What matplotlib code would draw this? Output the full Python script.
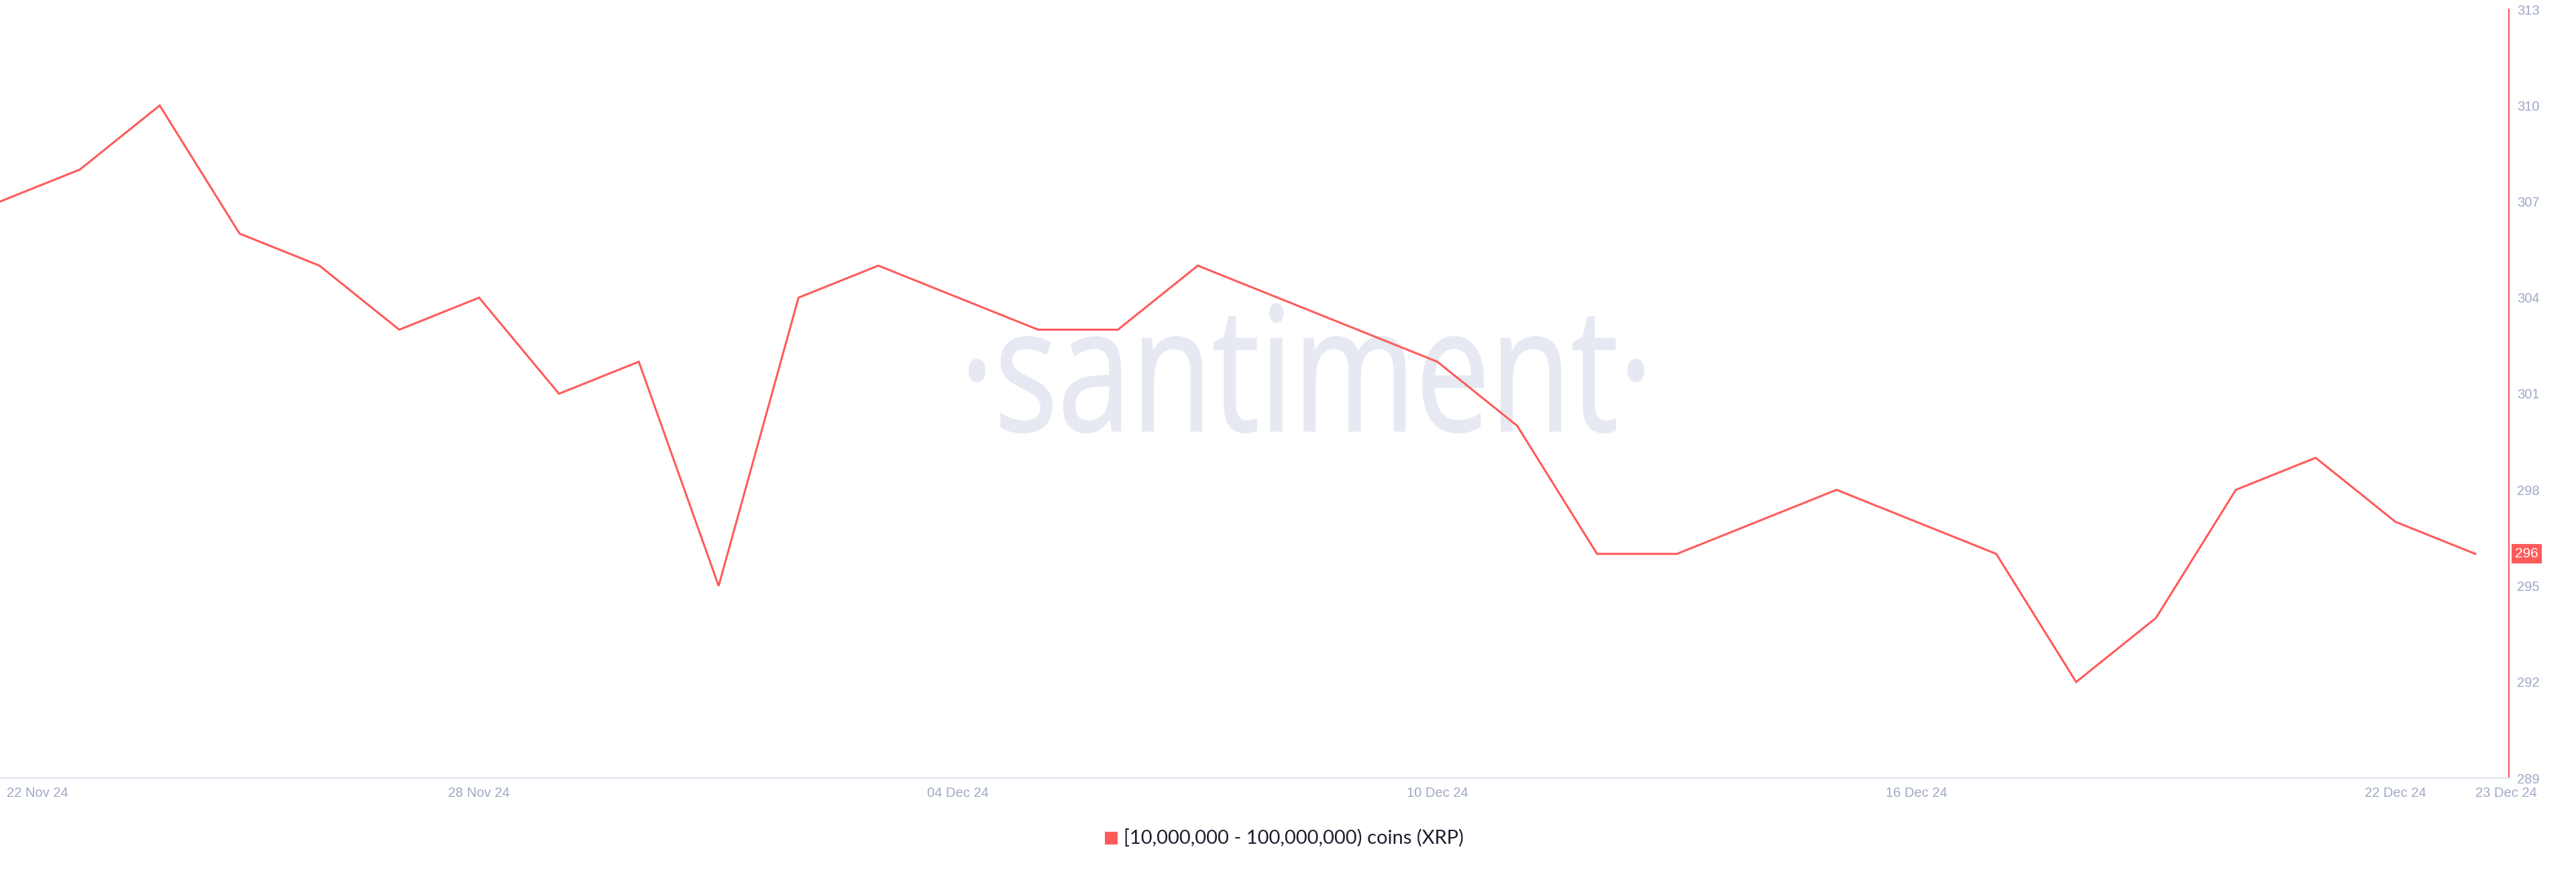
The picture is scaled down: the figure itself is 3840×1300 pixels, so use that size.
import matplotlib
matplotlib.use("Agg")
import matplotlib.pyplot as plt
import matplotlib.dates as mdates
import pandas as pd
from matplotlib.textpath import TextPath
from matplotlib.patches import PathPatch, Rectangle
from matplotlib.font_manager import FontProperties
from matplotlib.transforms import Affine2D, ScaledTranslation, blended_transform_factory

# Data (holders of 10M-100M XRP, daily)
start_date = "2024-11-22"
holders = [307, 308, 310, 306, 305, 303, 304, 301, 302, 295,
           304, 305, 304, 303, 303, 305, 304, 303, 302, 300,
           296, 296, 297, 298, 297, 296, 292, 294, 298, 299,
           297, 296]
tick_dates = ["2024-11-22", "2024-11-28", "2024-12-04", "2024-12-10",
              "2024-12-16", "2024-12-22", "2024-12-23"]
y_ticks = [289, 292, 295, 298, 301, 304, 307, 310, 313]
series_label = "[10,000,000 - 100,000,000) coins (XRP)"

RED = "#ff5a5a"
TICK_COLOR = "#9ea9c4"
W, H, DPI = 3840, 1300, 100

dates = pd.date_range(start_date, periods=len(holders), freq="D")

fig = plt.figure(figsize=(W / DPI, H / DPI), dpi=DPI)
# axes box in pixels: left 0, right 3740, top 14, bottom 1160
ax = fig.add_axes([0, (H - 1160) / H, 3740 / W, (1160 - 14) / H])
ax.set_facecolor("none")

# Watermark
fp = FontProperties(family="Open Sans")
tp = TextPath((0, 0), "·santiment·", size=100, prop=fp)
ext = tp.get_extents()
x0, x1, ytop, ybot = 1445, 2450, 453, 645
sx = (x1 - x0) / ext.width
sy = (ybot - ytop) / ext.height
tr = Affine2D().translate(-ext.x0, -ext.y0).scale(sx, sy).translate(x0, H - ybot)
wm = PathPatch(tp, transform=tr, facecolor="#e6e9f2", edgecolor="#e6e9f2",
               lw=1.5, zorder=0)
ax.add_patch(wm)

ax.plot(dates, holders, color=RED, lw=2.2, zorder=3, solid_joinstyle="miter")

ax.set_ylim(289, 313)
ax.set_xlim(dates[0], dates[0] + pd.Timedelta(days=31.42))

# Axes styling
for s in ["top", "left"]:
    ax.spines[s].set_visible(False)
ax.spines["right"].set_color(RED)
ax.spines["right"].set_linewidth(1.6)
ax.spines["bottom"].set_color("#e0e4ee")
ax.spines["bottom"].set_linewidth(1.6)

ax.yaxis.tick_right()
ax.set_yticks(y_ticks)
ax.tick_params(axis="y", length=0, pad=8.6, labelsize=14.5, labelcolor=TICK_COLOR)
for lbl in ax.get_yticklabels():
    lbl.set_family("Liberation Sans")

ax.set_xticks(pd.to_datetime(tick_dates))
ax.xaxis.set_major_formatter(mdates.DateFormatter("%d %b %y"))
ax.tick_params(axis="x", length=0, pad=9, labelsize=14.5, labelcolor=TICK_COLOR)
xl = ax.get_xticklabels()
for lbl in xl:
    lbl.set_family("Liberation Sans")
xl[0].set_ha("left")
xl[0].set_transform(xl[0].get_transform() + ScaledTranslation(0.1, 0, fig.dpi_scale_trans))
xl[-1].set_ha("left")

# Last value marker on the axis
bt = blended_transform_factory(ax.transAxes, ax.transData)
ax.text(1.0025, holders[-1], f"{holders[-1]}", transform=bt, ha="left", va="center",
        color="white", fontsize=15, family="Liberation Sans", zorder=5,
        bbox=dict(boxstyle="square,pad=0.25", fc=RED, ec="none"),
        clip_on=False)

# Legend
leg_y = 1249
fig.patches.append(Rectangle((1647 / W, (H - leg_y - 10) / H), 19 / W, 19 / H,
                             transform=fig.transFigure, facecolor=RED, edgecolor="none"))
fig.text(1675 / W, (H - leg_y) / H, series_label, ha="left", va="center",
         fontsize=21, color="#1c1f2e", family="Lato")

fig.savefig("out.png", dpi=DPI, facecolor="white")
